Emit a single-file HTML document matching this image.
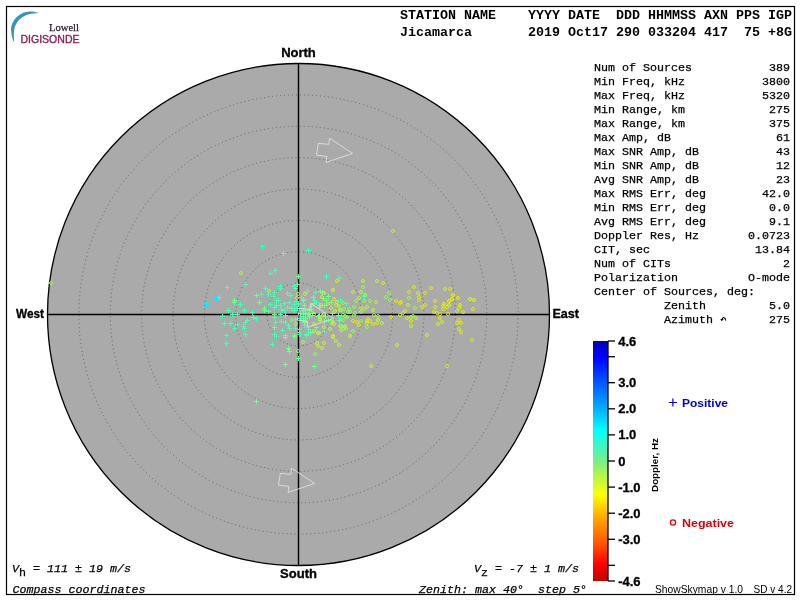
<!DOCTYPE html>
<html><head><meta charset="utf-8">
<style>
html,body{margin:0;padding:0;background:#fff;width:800px;height:600px;overflow:hidden}
svg{position:absolute;left:0;top:0;display:block;will-change:transform}
.mono{font-family:"Liberation Mono",monospace}
.sans{font-family:"Liberation Sans",sans-serif}
.serif{font-family:"Liberation Serif",serif}
</style></head><body>
<svg width="800" height="600" viewBox="0 0 800 600">
<defs>
<linearGradient id="cb" x1="0" y1="0" x2="0" y2="1">
<stop offset="0" stop-color="#0000b4"/>
<stop offset="0.0652" stop-color="#0000ff"/>
<stop offset="0.1739" stop-color="#0058ff"/>
<stop offset="0.2826" stop-color="#00b0ff"/>
<stop offset="0.37" stop-color="#00ffff"/>
<stop offset="0.5" stop-color="#78ee88"/>
<stop offset="0.64" stop-color="#ffff00"/>
<stop offset="0.74" stop-color="#ffa500"/>
<stop offset="0.84" stop-color="#ff5a00"/>
<stop offset="0.93" stop-color="#ff0000"/>
<stop offset="1" stop-color="#c00000"/>
</linearGradient>
</defs>
<rect x="6.5" y="6.5" width="788" height="588" fill="none" stroke="#000" stroke-width="1.2"/>
<!-- logo -->
<path d="M39 13.4 C 33 10.5, 24 11, 18 16 C 13 20, 10.5 26, 11.2 31 C 11.5 36, 12.5 40, 14.3 42.5 C 13.8 38, 13.6 34, 14.2 30 C 15 24, 18.5 19.5, 23.5 16.5 C 28 14, 34 13, 39 13.4 Z" fill="#3a90c0"/>
<text x="49" y="30.5" class="serif" font-size="11" fill="#2a1a28" stroke="#2a1a28" stroke-width="0.25" textLength="30" lengthAdjust="spacingAndGlyphs">Lowell</text>
<text x="20.5" y="42.8" class="sans" font-size="10.4" fill="#8c1e55" stroke="#8c1e55" stroke-width="0.35" textLength="59" lengthAdjust="spacingAndGlyphs">DIGISONDE</text>
<!-- header -->
<g class="mono" font-weight="bold" font-size="13.33" fill="#000">
<text x="400" y="18.6" xml:space="preserve">STATION NAME    YYYY DATE  DDD HHMMSS AXN PPS IGP</text>
<text x="400" y="35.5" xml:space="preserve">Jicamarca       2019 Oct17 290 033204 417  75 +8G</text>
</g>
<!-- plot -->
<circle cx="298.5" cy="314.5" r="251" fill="#aaaaaa" stroke="#000" stroke-width="1.3"/>
<circle cx="298.5" cy="314.5" r="31.38" fill="none" stroke="#646464" stroke-width="1" stroke-dasharray="1 3"/><circle cx="298.5" cy="314.5" r="62.75" fill="none" stroke="#646464" stroke-width="1" stroke-dasharray="1 3"/><circle cx="298.5" cy="314.5" r="94.12" fill="none" stroke="#646464" stroke-width="1" stroke-dasharray="1 3"/><circle cx="298.5" cy="314.5" r="125.50" fill="none" stroke="#646464" stroke-width="1" stroke-dasharray="1 3"/><circle cx="298.5" cy="314.5" r="156.88" fill="none" stroke="#646464" stroke-width="1" stroke-dasharray="1 3"/><circle cx="298.5" cy="314.5" r="188.25" fill="none" stroke="#646464" stroke-width="1" stroke-dasharray="1 3"/><circle cx="298.5" cy="314.5" r="219.62" fill="none" stroke="#646464" stroke-width="1" stroke-dasharray="1 3"/>
<path d="M298.5 63.5V565.5M47.5 314.5H549.5" stroke="#000" stroke-width="1.4"/>
<g fill="none" stroke-width="1">
<path d="M260 246.5h5M262.5 244v5" stroke="#46ffb4"/><path d="M273 270.5h5M275.5 268v5" stroke="#46ffb4"/><path d="M268 273.5h5M270.5 271v5" stroke="#46ffb4"/><path d="M243 284.5h5M245.5 282v5" stroke="#46ffb4"/><path d="M225 287.5h5M227.5 285v5" stroke="#46ffb4"/><path d="M263 288.5h5M265.5 286v5" stroke="#46ffb4"/><path d="M278 286.5h5M280.5 284v5" stroke="#46ffb4"/><circle cx="241" cy="273" r="1.5" stroke="#bef53c"/><circle cx="269" cy="291" r="1.5" stroke="#e6eb00"/><path d="M204 304.5h5M206.5 302v5" stroke="#00f0ff"/><path d="M214 298.5h5M216.5 296v5" stroke="#00f0ff"/><path d="M217 297.5h5M219.5 295v5" stroke="#46ffb4"/><path d="M238 304.5h5M240.5 302v5" stroke="#46ffb4"/><path d="M226 310.5h5M228.5 308v5" stroke="#46ffb4"/><path d="M220 316.5h5M222.5 314v5" stroke="#46ffb4"/><path d="M230 314.5h5M232.5 312v5" stroke="#46ffb4"/><path d="M235 314.5h5M237.5 312v5" stroke="#46ffb4"/><path d="M242 310.5h5M244.5 308v5" stroke="#46ffb4"/><path d="M250 312.5h5M252.5 310v5" stroke="#46ffb4"/><path d="M251 317.5h5M253.5 315v5" stroke="#46ffb4"/><path d="M254 318.5h5M256.5 316v5" stroke="#46ffb4"/><path d="M222 323.5h5M224.5 321v5" stroke="#46ffb4"/><path d="M228 323.5h5M230.5 321v5" stroke="#46ffb4"/><path d="M235 324.5h5M237.5 322v5" stroke="#46ffb4"/><path d="M232 328.5h5M234.5 326v5" stroke="#46ffb4"/><path d="M245 320.5h5M247.5 318v5" stroke="#46ffb4"/><path d="M243 322.5h5M245.5 320v5" stroke="#46ffb4"/><path d="M241 326.5h5M243.5 324v5" stroke="#46ffb4"/><path d="M242 328.5h5M244.5 326v5" stroke="#46ffb4"/><path d="M243 334.5h5M245.5 332v5" stroke="#46ffb4"/><path d="M224 335.5h5M226.5 333v5" stroke="#46ffb4"/><path d="M224 343.5h5M226.5 341v5" stroke="#46ffb4"/><path d="M259 294.5h5M261.5 292v5" stroke="#46ffb4"/><path d="M266 294.5h5M268.5 292v5" stroke="#46ffb4"/><path d="M271 296.5h5M273.5 294v5" stroke="#46ffb4"/><path d="M272 292.5h5M274.5 290v5" stroke="#46ffb4"/><path d="M274 300.5h5M276.5 298v5" stroke="#46ffb4"/><path d="M268 304.5h5M270.5 302v5" stroke="#46ffb4"/><path d="M266 311.5h5M268.5 309v5" stroke="#46ffb4"/><path d="M272 307.5h5M274.5 305v5" stroke="#46ffb4"/><path d="M274 305.5h5M276.5 303v5" stroke="#46ffb4"/><path d="M272 317.5h5M274.5 315v5" stroke="#46ffb4"/><path d="M273 322.5h5M275.5 320v5" stroke="#46ffb4"/><path d="M272 334.5h5M274.5 332v5" stroke="#46ffb4"/><path d="M274 336.5h5M276.5 334v5" stroke="#46ffb4"/><path d="M270 344.5h5M272.5 342v5" stroke="#46ffb4"/><path d="M232 300.5h5M234.5 298v5" stroke="#6eff8c"/><path d="M232 302.5h5M234.5 300v5" stroke="#6eff8c"/><path d="M254 295.5h5M256.5 293v5" stroke="#6eff8c"/><path d="M257 302.5h5M259.5 300v5" stroke="#6eff8c"/><path d="M262 308.5h5M264.5 306v5" stroke="#6eff8c"/><path d="M262 310.5h5M264.5 308v5" stroke="#6eff8c"/><path d="M272 314.5h5M274.5 312v5" stroke="#6eff8c"/><path d="M272 327.5h5M274.5 325v5" stroke="#6eff8c"/><path d="M281 253.5h5M283.5 251v5" stroke="#46ffb4"/><path d="M306 250.5h5M308.5 248v5" stroke="#46ffb4"/><path d="M324 276.5h5M326.5 274v5" stroke="#46ffb4"/><path d="M337 278.5h5M339.5 276v5" stroke="#46ffb4"/><path d="M295 284.5h5M297.5 282v5" stroke="#46ffb4"/><path d="M292 286.5h5M294.5 284v5" stroke="#46ffb4"/><path d="M278 286.5h5M280.5 284v5" stroke="#46ffb4"/><path d="M296 276.5h5M298.5 274v5" stroke="#6eff8c"/><circle cx="337" cy="281" r="1.5" stroke="#e6eb00"/><circle cx="333" cy="290" r="1.5" stroke="#e6eb00"/><circle cx="393" cy="231" r="1.5" stroke="#bef53c"/><circle cx="363" cy="281" r="1.5" stroke="#bef53c"/><circle cx="377" cy="281" r="1.5" stroke="#bef53c"/><circle cx="383" cy="283" r="1.5" stroke="#e6eb00"/><circle cx="414" cy="287" r="1.5" stroke="#e6eb00"/><circle cx="431" cy="288" r="1.5" stroke="#e6eb00"/><circle cx="363" cy="287" r="1.5" stroke="#8cff50"/><circle cx="445" cy="289" r="1.5" stroke="#bef53c"/><circle cx="470" cy="299" r="1.5" stroke="#bef53c"/><circle cx="449" cy="305" r="1.5" stroke="#bef53c"/><circle cx="450" cy="289" r="1.5" stroke="#e6eb00"/><circle cx="453" cy="295" r="1.5" stroke="#e6eb00"/><circle cx="452" cy="299" r="1.5" stroke="#e6eb00"/><circle cx="449" cy="301" r="1.5" stroke="#e6eb00"/><circle cx="458" cy="298" r="1.5" stroke="#e6eb00"/><circle cx="474" cy="300" r="1.5" stroke="#e6eb00"/><circle cx="444" cy="304" r="1.5" stroke="#e6eb00"/><circle cx="460" cy="305" r="1.5" stroke="#e6eb00"/><path d="M285 293.5h5M287.5 291v5" stroke="#46ffb4"/><path d="M288 295.5h5M290.5 293v5" stroke="#46ffb4"/><path d="M299 297.5h5M301.5 295v5" stroke="#46ffb4"/><path d="M301 299.5h5M303.5 297v5" stroke="#46ffb4"/><path d="M305 291.5h5M307.5 289v5" stroke="#46ffb4"/><path d="M282 303.5h5M284.5 301v5" stroke="#46ffb4"/><path d="M278 305.5h5M280.5 303v5" stroke="#46ffb4"/><path d="M287 302.5h5M289.5 300v5" stroke="#46ffb4"/><path d="M285 307.5h5M287.5 305v5" stroke="#46ffb4"/><path d="M289 308.5h5M291.5 306v5" stroke="#46ffb4"/><path d="M292 304.5h5M294.5 302v5" stroke="#46ffb4"/><path d="M296 303.5h5M298.5 301v5" stroke="#46ffb4"/><path d="M302 305.5h5M304.5 303v5" stroke="#46ffb4"/><path d="M279 309.5h5M281.5 307v5" stroke="#46ffb4"/><path d="M282 310.5h5M284.5 308v5" stroke="#46ffb4"/><path d="M292 310.5h5M294.5 308v5" stroke="#46ffb4"/><path d="M295 308.5h5M297.5 306v5" stroke="#46ffb4"/><path d="M276 300.5h5M278.5 298v5" stroke="#46ffb4"/><path d="M278 288.5h5M280.5 286v5" stroke="#46ffb4"/><path d="M293 288.5h5M295.5 286v5" stroke="#46ffb4"/><circle cx="298" cy="294" r="1.5" stroke="#bef53c"/><circle cx="297" cy="298" r="1.5" stroke="#bef53c"/><circle cx="305" cy="294" r="1.5" stroke="#bef53c"/><path d="M313 292.5h5M315.5 290v5" stroke="#6eff8c"/><path d="M318 291.5h5M320.5 289v5" stroke="#6eff8c"/><path d="M320 292.5h5M322.5 290v5" stroke="#6eff8c"/><path d="M311 297.5h5M313.5 295v5" stroke="#6eff8c"/><path d="M312 300.5h5M314.5 298v5" stroke="#6eff8c"/><path d="M326 296.5h5M328.5 294v5" stroke="#6eff8c"/><path d="M321 298.5h5M323.5 296v5" stroke="#6eff8c"/><path d="M324 300.5h5M326.5 298v5" stroke="#6eff8c"/><path d="M329 302.5h5M331.5 300v5" stroke="#6eff8c"/><path d="M338 300.5h5M340.5 298v5" stroke="#6eff8c"/><path d="M312 303.5h5M314.5 301v5" stroke="#6eff8c"/><path d="M322 305.5h5M324.5 303v5" stroke="#6eff8c"/><path d="M309 306.5h5M311.5 304v5" stroke="#6eff8c"/><path d="M317 305.5h5M319.5 303v5" stroke="#6eff8c"/><circle cx="333" cy="290" r="1.5" stroke="#bef53c"/><circle cx="322" cy="297" r="1.5" stroke="#bef53c"/><circle cx="337" cy="302" r="1.5" stroke="#bef53c"/><circle cx="339" cy="306" r="1.5" stroke="#bef53c"/><circle cx="331" cy="308" r="1.5" stroke="#bef53c"/><circle cx="328" cy="304" r="1.5" stroke="#bef53c"/><circle cx="336" cy="305" r="1.5" stroke="#bef53c"/><circle cx="324" cy="293" r="1.5" stroke="#bef53c"/><circle cx="335" cy="311" r="1.5" stroke="#bef53c"/><circle cx="340" cy="310" r="1.5" stroke="#bef53c"/><circle cx="334" cy="299" r="1.5" stroke="#e6eb00"/><path d="M279 321.5h5M281.5 319v5" stroke="#46ffb4"/><path d="M283 322.5h5M285.5 320v5" stroke="#46ffb4"/><path d="M286 325.5h5M288.5 323v5" stroke="#46ffb4"/><path d="M280 330.5h5M282.5 328v5" stroke="#46ffb4"/><path d="M287 328.5h5M289.5 326v5" stroke="#46ffb4"/><path d="M293 328.5h5M295.5 326v5" stroke="#46ffb4"/><path d="M297 329.5h5M299.5 327v5" stroke="#46ffb4"/><path d="M302 325.5h5M304.5 323v5" stroke="#46ffb4"/><path d="M304 334.5h5M306.5 332v5" stroke="#46ffb4"/><path d="M283 335.5h5M285.5 333v5" stroke="#46ffb4"/><path d="M292 335.5h5M294.5 333v5" stroke="#46ffb4"/><path d="M298 318.5h5M300.5 316v5" stroke="#46ffb4"/><path d="M301 314.5h5M303.5 312v5" stroke="#46ffb4"/><path d="M303 321.5h5M305.5 319v5" stroke="#46ffb4"/><path d="M278 314.5h5M280.5 312v5" stroke="#46ffb4"/><path d="M283 315.5h5M285.5 313v5" stroke="#46ffb4"/><path d="M306 329.5h5M308.5 327v5" stroke="#46ffb4"/><path d="M297 334.5h5M299.5 332v5" stroke="#46ffb4"/><path d="M307 315.5h5M309.5 313v5" stroke="#46ffb4"/><circle cx="292" cy="320" r="1.5" stroke="#8cff50"/><circle cx="296" cy="324" r="1.5" stroke="#8cff50"/><path d="M317 315.5h5M319.5 313v5" stroke="#6eff8c"/><path d="M323 316.5h5M325.5 314v5" stroke="#6eff8c"/><path d="M322 321.5h5M324.5 319v5" stroke="#6eff8c"/><path d="M326 320.5h5M328.5 318v5" stroke="#6eff8c"/><path d="M337 320.5h5M339.5 318v5" stroke="#6eff8c"/><path d="M336 315.5h5M338.5 313v5" stroke="#6eff8c"/><path d="M314 327.5h5M316.5 325v5" stroke="#6eff8c"/><path d="M322 331.5h5M324.5 329v5" stroke="#6eff8c"/><path d="M308 332.5h5M310.5 330v5" stroke="#6eff8c"/><path d="M306 314.5h5M308.5 312v5" stroke="#6eff8c"/><path d="M330 313.5h5M332.5 311v5" stroke="#6eff8c"/><circle cx="320" cy="320" r="1.5" stroke="#bef53c"/><circle cx="314" cy="324" r="1.5" stroke="#bef53c"/><circle cx="324" cy="327" r="1.5" stroke="#bef53c"/><circle cx="330" cy="329" r="1.5" stroke="#bef53c"/><circle cx="340" cy="326" r="1.5" stroke="#bef53c"/><circle cx="314" cy="331" r="1.5" stroke="#bef53c"/><circle cx="318" cy="333" r="1.5" stroke="#bef53c"/><circle cx="333" cy="322" r="1.5" stroke="#bef53c"/><circle cx="334" cy="324" r="1.5" stroke="#bef53c"/><circle cx="332" cy="323" r="1.5" stroke="#bef53c"/><circle cx="323" cy="315" r="1.5" stroke="#bef53c"/><circle cx="341" cy="330" r="1.5" stroke="#bef53c"/><circle cx="333" cy="336" r="1.5" stroke="#bef53c"/><circle cx="353" cy="292" r="1.5" stroke="#bef53c"/><circle cx="361" cy="292" r="1.5" stroke="#bef53c"/><circle cx="376" cy="302" r="1.5" stroke="#bef53c"/><circle cx="367" cy="307" r="1.5" stroke="#bef53c"/><circle cx="373" cy="310" r="1.5" stroke="#bef53c"/><circle cx="374" cy="315" r="1.5" stroke="#bef53c"/><circle cx="367" cy="321" r="1.5" stroke="#bef53c"/><circle cx="370" cy="321" r="1.5" stroke="#bef53c"/><circle cx="378" cy="320" r="1.5" stroke="#bef53c"/><circle cx="382" cy="323" r="1.5" stroke="#bef53c"/><path d="M362 296.5h5M364.5 294v5" stroke="#46ffb4"/><path d="M344 303.5h5M346.5 301v5" stroke="#46ffb4"/><path d="M338 300.5h5M340.5 298v5" stroke="#46ffb4"/><path d="M338 318.5h5M340.5 316v5" stroke="#46ffb4"/><circle cx="365" cy="295" r="1.5" stroke="#8cff50"/><circle cx="359" cy="298" r="1.5" stroke="#8cff50"/><circle cx="356" cy="301" r="1.5" stroke="#8cff50"/><circle cx="364" cy="301" r="1.5" stroke="#8cff50"/><circle cx="370" cy="301" r="1.5" stroke="#8cff50"/><circle cx="389" cy="293" r="1.5" stroke="#8cff50"/><circle cx="386" cy="297" r="1.5" stroke="#8cff50"/><circle cx="390" cy="300" r="1.5" stroke="#8cff50"/><circle cx="354" cy="307" r="1.5" stroke="#8cff50"/><circle cx="364" cy="309" r="1.5" stroke="#8cff50"/><circle cx="361" cy="312" r="1.5" stroke="#8cff50"/><circle cx="354" cy="315" r="1.5" stroke="#8cff50"/><circle cx="355" cy="313" r="1.5" stroke="#8cff50"/><circle cx="378" cy="316" r="1.5" stroke="#8cff50"/><circle cx="361" cy="321" r="1.5" stroke="#8cff50"/><circle cx="367" cy="327" r="1.5" stroke="#8cff50"/><circle cx="353" cy="331" r="1.5" stroke="#8cff50"/><circle cx="343" cy="329" r="1.5" stroke="#8cff50"/><circle cx="346" cy="329" r="1.5" stroke="#8cff50"/><circle cx="341" cy="326" r="1.5" stroke="#8cff50"/><circle cx="345" cy="326" r="1.5" stroke="#8cff50"/><circle cx="343" cy="303" r="1.5" stroke="#8cff50"/><circle cx="344" cy="309" r="1.5" stroke="#8cff50"/><circle cx="349" cy="309" r="1.5" stroke="#8cff50"/><circle cx="348" cy="312" r="1.5" stroke="#8cff50"/><circle cx="350" cy="312" r="1.5" stroke="#8cff50"/><circle cx="345" cy="316" r="1.5" stroke="#8cff50"/><circle cx="343" cy="315" r="1.5" stroke="#8cff50"/><circle cx="347" cy="317" r="1.5" stroke="#8cff50"/><circle cx="343" cy="320" r="1.5" stroke="#8cff50"/><circle cx="341" cy="310" r="1.5" stroke="#8cff50"/><circle cx="396" cy="301" r="1.5" stroke="#e6eb00"/><circle cx="400" cy="303" r="1.5" stroke="#e6eb00"/><circle cx="361" cy="308" r="1.5" stroke="#e6eb00"/><circle cx="391" cy="317" r="1.5" stroke="#e6eb00"/><circle cx="353" cy="321" r="1.5" stroke="#e6eb00"/><circle cx="357" cy="322" r="1.5" stroke="#e6eb00"/><circle cx="359" cy="325" r="1.5" stroke="#e6eb00"/><circle cx="368" cy="319" r="1.5" stroke="#e6eb00"/><circle cx="367" cy="323" r="1.5" stroke="#e6eb00"/><circle cx="373" cy="324" r="1.5" stroke="#e6eb00"/><circle cx="377" cy="323" r="1.5" stroke="#e6eb00"/><circle cx="400" cy="315" r="1.5" stroke="#bef53c"/><circle cx="409" cy="292" r="1.5" stroke="#e6eb00"/><circle cx="425" cy="293" r="1.5" stroke="#e6eb00"/><circle cx="419" cy="297" r="1.5" stroke="#e6eb00"/><circle cx="419" cy="300" r="1.5" stroke="#e6eb00"/><circle cx="401" cy="302" r="1.5" stroke="#e6eb00"/><circle cx="422" cy="307" r="1.5" stroke="#e6eb00"/><circle cx="425" cy="305" r="1.5" stroke="#e6eb00"/><circle cx="405" cy="311" r="1.5" stroke="#e6eb00"/><circle cx="411" cy="321" r="1.5" stroke="#e6eb00"/><circle cx="435" cy="301" r="1.5" stroke="#e6eb00"/><circle cx="434" cy="312" r="1.5" stroke="#e6eb00"/><circle cx="437" cy="313" r="1.5" stroke="#e6eb00"/><circle cx="440" cy="314" r="1.5" stroke="#e6eb00"/><circle cx="440" cy="318" r="1.5" stroke="#e6eb00"/><circle cx="442" cy="322" r="1.5" stroke="#e6eb00"/><circle cx="443" cy="306" r="1.5" stroke="#e6eb00"/><circle cx="444" cy="304" r="1.5" stroke="#e6eb00"/><circle cx="443" cy="309" r="1.5" stroke="#e6eb00"/><circle cx="447" cy="307" r="1.5" stroke="#e6eb00"/><circle cx="449" cy="301" r="1.5" stroke="#e6eb00"/><circle cx="452" cy="299" r="1.5" stroke="#e6eb00"/><circle cx="453" cy="295" r="1.5" stroke="#e6eb00"/><circle cx="448" cy="314" r="1.5" stroke="#e6eb00"/><circle cx="458" cy="298" r="1.5" stroke="#e6eb00"/><circle cx="460" cy="305" r="1.5" stroke="#e6eb00"/><circle cx="459" cy="308" r="1.5" stroke="#e6eb00"/><circle cx="463" cy="312" r="1.5" stroke="#e6eb00"/><circle cx="459" cy="320" r="1.5" stroke="#e6eb00"/><circle cx="457" cy="323" r="1.5" stroke="#e6eb00"/><circle cx="461" cy="323" r="1.5" stroke="#e6eb00"/><circle cx="461" cy="332" r="1.5" stroke="#e6eb00"/><circle cx="474" cy="300" r="1.5" stroke="#e6eb00"/><circle cx="473" cy="309" r="1.5" stroke="#e6eb00"/><circle cx="472" cy="340" r="1.5" stroke="#e6eb00"/><circle cx="418" cy="293" r="1.5" stroke="#bef53c"/><circle cx="408" cy="305" r="1.5" stroke="#bef53c"/><circle cx="403" cy="313" r="1.5" stroke="#bef53c"/><circle cx="407" cy="318" r="1.5" stroke="#bef53c"/><circle cx="411" cy="317" r="1.5" stroke="#bef53c"/><circle cx="416" cy="318" r="1.5" stroke="#bef53c"/><circle cx="411" cy="326" r="1.5" stroke="#bef53c"/><circle cx="427" cy="335" r="1.5" stroke="#bef53c"/><circle cx="435" cy="307" r="1.5" stroke="#bef53c"/><circle cx="438" cy="324" r="1.5" stroke="#bef53c"/><circle cx="449" cy="305" r="1.5" stroke="#bef53c"/><circle cx="457" cy="311" r="1.5" stroke="#bef53c"/><circle cx="459" cy="329" r="1.5" stroke="#bef53c"/><circle cx="470" cy="299" r="1.5" stroke="#bef53c"/><circle cx="409" cy="298" r="1.5" stroke="#8cff50"/><circle cx="415" cy="308" r="1.5" stroke="#8cff50"/><circle cx="413" cy="316" r="1.5" stroke="#8cff50"/><path d="M283 337.5h5M285.5 335v5" stroke="#6eff8c"/><path d="M292 336.5h5M294.5 334v5" stroke="#6eff8c"/><path d="M286 348.5h5M288.5 346v5" stroke="#6eff8c"/><path d="M287 351.5h5M289.5 349v5" stroke="#6eff8c"/><path d="M296 358.5h5M298.5 356v5" stroke="#6eff8c"/><path d="M283 364.5h5M285.5 362v5" stroke="#6eff8c"/><path d="M312 366.5h5M314.5 364v5" stroke="#6eff8c"/><path d="M254 401.5h5M256.5 399v5" stroke="#6eff8c"/><circle cx="298" cy="351" r="1.5" stroke="#8cff50"/><circle cx="303" cy="342" r="1.5" stroke="#8cff50"/><circle cx="315" cy="354" r="1.5" stroke="#8cff50"/><path d="M280 330.5h5M282.5 328v5" stroke="#46ffb4"/><path d="M297 332.5h5M299.5 330v5" stroke="#46ffb4"/><path d="M304 335.5h5M306.5 333v5" stroke="#46ffb4"/><path d="M308 333.5h5M310.5 331v5" stroke="#46ffb4"/><path d="M322 331.5h5M324.5 329v5" stroke="#46ffb4"/><circle cx="319" cy="333" r="1.5" stroke="#bef53c"/><circle cx="317" cy="343" r="1.5" stroke="#bef53c"/><circle cx="324" cy="343" r="1.5" stroke="#bef53c"/><circle cx="318" cy="346" r="1.5" stroke="#bef53c"/><circle cx="322" cy="348" r="1.5" stroke="#bef53c"/><circle cx="333" cy="337" r="1.5" stroke="#bef53c"/><circle cx="336" cy="341" r="1.5" stroke="#bef53c"/><circle cx="339" cy="345" r="1.5" stroke="#bef53c"/><circle cx="350" cy="336" r="1.5" stroke="#bef53c"/><circle cx="350" cy="336" r="1.5" stroke="#bef53c"/><circle cx="345" cy="327" r="1.5" stroke="#bef53c"/><circle cx="397" cy="345" r="1.5" stroke="#bef53c"/><circle cx="371" cy="366" r="1.5" stroke="#bef53c"/><circle cx="447" cy="366" r="1.5" stroke="#bef53c"/><circle cx="51" cy="283" r="1.5" stroke="#8cff50"/><path d="M313 292.5h5M315.5 290v5" stroke="#46ffb4"/><path d="M362 296.5h5M364.5 294v5" stroke="#46ffb4"/><circle cx="365" cy="295" r="1.5" stroke="#8cff50"/><circle cx="359" cy="298" r="1.5" stroke="#8cff50"/><path d="M301 310.5h5M303.5 308v5" stroke="#6eff8c"/><path d="M303 313.5h5M305.5 311v5" stroke="#6eff8c"/><path d="M307 316.5h5M309.5 314v5" stroke="#6eff8c"/><path d="M301 316.5h5M303.5 314v5" stroke="#6eff8c"/><path d="M303 310.5h5M305.5 308v5" stroke="#6eff8c"/><path d="M307 310.5h5M309.5 308v5" stroke="#6eff8c"/><path d="M309 309.5h5M311.5 307v5" stroke="#6eff8c"/><path d="M310 313.5h5M312.5 311v5" stroke="#6eff8c"/><path d="M298 313.5h5M300.5 311v5" stroke="#6eff8c"/><path d="M303 318.5h5M305.5 316v5" stroke="#6eff8c"/><path d="M301 320.5h5M303.5 318v5" stroke="#6eff8c"/><path d="M307 313.5h5M309.5 311v5" stroke="#6eff8c"/><path d="M302 305.5h5M304.5 303v5" stroke="#6eff8c"/><path d="M317 307.5h5M319.5 305v5" stroke="#6eff8c"/><path d="M316 316.5h5M318.5 314v5" stroke="#6eff8c"/><path d="M301 300.5h5M303.5 298v5" stroke="#6eff8c"/><path d="M302 322.5h5M304.5 320v5" stroke="#6eff8c"/><path d="M296 304.5h5M298.5 302v5" stroke="#46ffb4"/><path d="M294 301.5h5M296.5 299v5" stroke="#46ffb4"/><path d="M314 302.5h5M316.5 300v5" stroke="#46ffb4"/><path d="M312 300.5h5M314.5 298v5" stroke="#46ffb4"/><path d="M293 319.5h5M295.5 317v5" stroke="#46ffb4"/><circle cx="321" cy="305" r="1.5" stroke="#bef53c"/><circle cx="324" cy="314" r="1.5" stroke="#bef53c"/><circle cx="320" cy="319" r="1.5" stroke="#bef53c"/><circle cx="314" cy="314" r="1.5" stroke="#bef53c"/>
</g>
<polygon points="318.35,143.35 328.85,144.40 329.60,138.25 352.60,153.40 326.20,162.40 326.75,156.40 316.40,155.10" fill="none" stroke="#dcdcdc" stroke-width="0.95" stroke-linejoin="miter"/><polygon points="299.35,308.35 309.85,309.40 310.60,303.25 333.60,318.40 307.20,327.40 307.75,321.40 297.40,320.10" fill="none" stroke="#dcdcdc" stroke-width="0.95" stroke-linejoin="miter"/><polygon points="280.35,473.35 290.85,474.40 291.60,468.25 314.60,483.40 288.20,492.40 288.75,486.40 278.40,485.10" fill="none" stroke="#dcdcdc" stroke-width="0.95" stroke-linejoin="miter"/>
<g class="sans" font-weight="bold" font-size="13" fill="#000" stroke="#000" stroke-width="0.35">
<text x="298.5" y="56.6" text-anchor="middle">North</text>
<text x="298.5" y="577.8" text-anchor="middle">South</text>
<text x="16" y="317.8" textLength="28" lengthAdjust="spacingAndGlyphs">West</text>
<text x="552.5" y="318" textLength="26.5" lengthAdjust="spacingAndGlyphs">East</text>
</g>
<!-- stats -->
<g class="mono" font-size="11.67" fill="#000" stroke="#000" stroke-width="0.25">
<text x="594" y="70.7" xml:space="preserve">Num of Sources</text><text x="790" y="70.7" text-anchor="end">389</text><text x="594" y="84.7" xml:space="preserve">Min Freq, kHz</text><text x="790" y="84.7" text-anchor="end">3800</text><text x="594" y="98.7" xml:space="preserve">Max Freq, kHz</text><text x="790" y="98.7" text-anchor="end">5320</text><text x="594" y="112.7" xml:space="preserve">Min Range, km</text><text x="790" y="112.7" text-anchor="end">275</text><text x="594" y="126.7" xml:space="preserve">Max Range, km</text><text x="790" y="126.7" text-anchor="end">375</text><text x="594" y="140.7" xml:space="preserve">Max Amp, dB</text><text x="790" y="140.7" text-anchor="end">61</text><text x="594" y="154.7" xml:space="preserve">Max SNR Amp, dB</text><text x="790" y="154.7" text-anchor="end">43</text><text x="594" y="168.7" xml:space="preserve">Min SNR Amp, dB</text><text x="790" y="168.7" text-anchor="end">12</text><text x="594" y="182.7" xml:space="preserve">Avg SNR Amp, dB</text><text x="790" y="182.7" text-anchor="end">23</text><text x="594" y="196.7" xml:space="preserve">Max RMS Err, deg</text><text x="790" y="196.7" text-anchor="end">42.0</text><text x="594" y="210.7" xml:space="preserve">Min RMS Err, deg</text><text x="790" y="210.7" text-anchor="end">0.0</text><text x="594" y="224.7" xml:space="preserve">Avg RMS Err, deg</text><text x="790" y="224.7" text-anchor="end">9.1</text><text x="594" y="238.7" xml:space="preserve">Doppler Res, Hz</text><text x="790" y="238.7" text-anchor="end">0.0723</text><text x="594" y="252.7" xml:space="preserve">CIT, sec</text><text x="790" y="252.7" text-anchor="end">13.84</text><text x="594" y="266.7" xml:space="preserve">Num of CITs</text><text x="790" y="266.7" text-anchor="end">2</text><text x="594" y="280.7" xml:space="preserve">Polarization</text><text x="790" y="280.7" text-anchor="end">O-mode</text><text x="594" y="294.7" xml:space="preserve">Center of Sources, deg:</text><text x="594" y="308.7" xml:space="preserve">          Zenith</text><text x="790" y="308.7" text-anchor="end">5.0</text><text x="594" y="322.7" xml:space="preserve">          Azimuth</text><text x="790" y="322.7" text-anchor="end">275</text>
</g>
<path d="M725.6 320.4 C725.6 317.2, 722.6 316.8, 722.2 319.2" fill="none" stroke="#000" stroke-width="1.1"/>
<path d="M720.3 318.9 L723.6 319 L721.8 321.2 Z" fill="#000"/>
<!-- colorbar -->
<rect x="593" y="341" width="15" height="240" fill="url(#cb)"/>
<path d="M608 341V581" stroke="#000" stroke-width="1.3"/>
<g class="sans" font-weight="bold" font-size="13" fill="#000" stroke="#000" stroke-width="0.3">
<path d="M608 341.0h7" stroke="#000" stroke-width="1.3"/><text x="618.2" y="345.5">4.6</text><path d="M608 356.7h7" stroke="#000" stroke-width="1.3"/><path d="M608 382.7h7" stroke="#000" stroke-width="1.3"/><text x="618.2" y="387.2">3.0</text><path d="M608 408.8h7" stroke="#000" stroke-width="1.3"/><text x="618.2" y="413.3">2.0</text><path d="M608 434.9h7" stroke="#000" stroke-width="1.3"/><text x="618.2" y="439.4">1.0</text><path d="M608 461.0h7" stroke="#000" stroke-width="1.3"/><text x="618.2" y="465.5">0</text><path d="M608 487.1h7" stroke="#000" stroke-width="1.3"/><text x="618.2" y="491.6">-1.0</text><path d="M608 513.2h7" stroke="#000" stroke-width="1.3"/><text x="618.2" y="517.7">-2.0</text><path d="M608 539.3h7" stroke="#000" stroke-width="1.3"/><text x="618.2" y="543.8">-3.0</text><path d="M608 565.3h7" stroke="#000" stroke-width="1.3"/><path d="M608 581.0h7" stroke="#000" stroke-width="1.3"/><text x="618.2" y="585.5">-4.6</text>
</g>
<text transform="translate(657.5,465) rotate(-90)" text-anchor="middle" class="sans" font-weight="bold" font-size="9.8" fill="#000">Doppler, Hz</text>
<g class="sans" font-weight="bold" font-size="10.8">
<path d="M668.8 402.5h8.2M672.9 398.4v8.2" stroke="#0000dd" stroke-width="1.2"/>
<text x="682" y="406.5" fill="#0000dd" textLength="46" lengthAdjust="spacingAndGlyphs">Positive</text>
<circle cx="673" cy="522.5" r="2.6" fill="none" stroke="#e00000" stroke-width="1.3"/>
<text x="682" y="526.5" fill="#e00000" textLength="52" lengthAdjust="spacingAndGlyphs">Negative</text>
</g>
<!-- bottom texts -->
<g class="mono" font-style="italic" font-size="11.67" fill="#000" stroke="#000" stroke-width="0.25">
<text x="12" y="572" xml:space="preserve">V</text>
<text x="19" y="575.5" font-style="normal">h</text>
<text x="26" y="572" xml:space="preserve"> = 111 ± 19 m/s</text>
<text x="474" y="572" xml:space="preserve">V</text>
<text x="481" y="575.5" font-style="normal">z</text>
<text x="488" y="572" xml:space="preserve"> = -7 ± 1 m/s</text>
<text x="12.5" y="592.5" xml:space="preserve">Compass coordinates</text>
<text x="419" y="592.5" xml:space="preserve">Zenith: max 40°  step 5°</text>
</g>
<text x="655" y="592.6" class="sans" font-size="10.2" fill="#000" textLength="88" lengthAdjust="spacingAndGlyphs">ShowSkymap v 1.0</text>
<text x="753.6" y="592.6" class="sans" font-size="10" fill="#000" textLength="38.4" lengthAdjust="spacingAndGlyphs">SD v 4.2</text>
</svg>
</body></html>
